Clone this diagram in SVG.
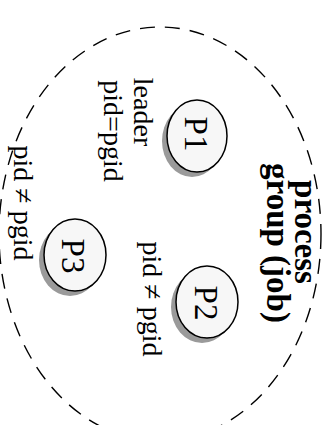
<svg xmlns="http://www.w3.org/2000/svg" width="336" height="425" viewBox="0 0 336 425">
  <style>
    .lbl { font-family: "Liberation Serif", "Times New Roman", serif; font-size: 28px; fill: #000; }
    .pid { font-family: "Liberation Serif", "Times New Roman", serif; font-size: 33px; fill: #000; }
    .title { font-family: "Liberation Serif", "Times New Roman", serif; font-size: 33px; font-weight: bold; fill: #000; }
    .node { fill: #f7f7f7; stroke: #000; stroke-width: 1.5; }
    .shadow { fill: #9a9a9a; stroke: none; }
    .group { fill: none; stroke: #000; stroke-width: 1.4; stroke-dasharray: 15 10; }
  </style>
  <rect width="336" height="425" fill="#fff"/>

  <!-- process group boundary -->
  <g id="process-group">
    <ellipse class="group" cx="160" cy="234" rx="161" ry="207"/>
    <text class="title" text-anchor="middle" transform="translate(295,232) rotate(90)">process</text>
    <text class="title" text-anchor="middle" transform="translate(267,243) rotate(90)">group (job)</text>
  </g>

  <g id="connectors"></g>

  <!-- P1: group leader -->
  <g id="p1">
    <ellipse class="shadow" cx="192" cy="141" rx="30" ry="36"/>
    <ellipse class="node" cx="197" cy="136" rx="30" ry="36"/>
    <text class="pid" text-anchor="middle" transform="translate(185,134) rotate(90)">P1</text>
    <text class="lbl" text-anchor="middle" transform="translate(134,112) rotate(90)">leader</text>
    <text class="lbl" text-anchor="middle" transform="translate(104,131) rotate(90)">pid=pgid</text>
  </g>

  <!-- P2 -->
  <g id="p2">
    <ellipse class="shadow" cx="202" cy="307" rx="31" ry="36"/>
    <ellipse class="node" cx="207" cy="302" rx="31" ry="36"/>
    <text class="pid" text-anchor="middle" transform="translate(195,303) rotate(90)">P2</text>
    <text class="lbl" text-anchor="middle" transform="translate(143,299) rotate(90)">pid ≠ pgid</text>
  </g>

  <!-- P3 -->
  <g id="p3">
    <ellipse class="shadow" cx="70" cy="260" rx="31" ry="36"/>
    <ellipse class="node" cx="75" cy="255" rx="31" ry="36"/>
    <text class="pid" text-anchor="middle" transform="translate(62,256) rotate(90)">P3</text>
    <text class="lbl" text-anchor="middle" transform="translate(14,203) rotate(90)">pid ≠ pgid</text>
  </g>
</svg>
